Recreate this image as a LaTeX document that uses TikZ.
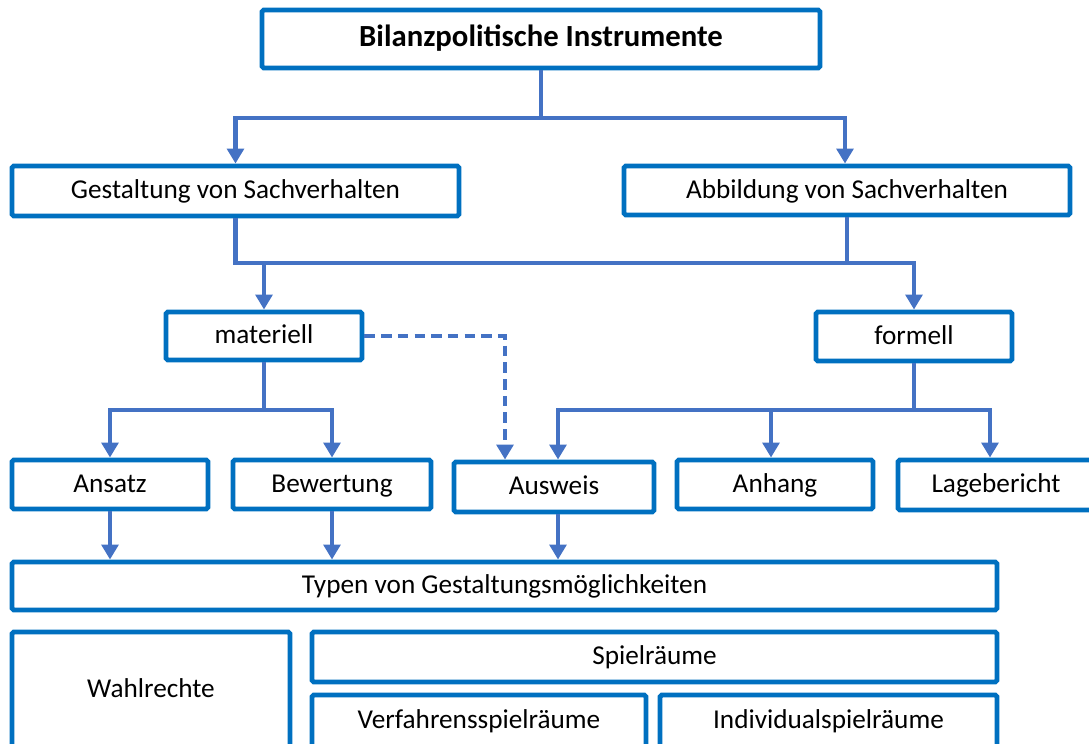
\documentclass[tikz,border=0pt]{standalone}
\usepackage{fontspec}
\setmainfont{Carlito}
\usetikzlibrary{arrows.meta,calc}
\definecolor{boxblue}{HTML}{0070C0}
\definecolor{linkblue}{HTML}{4472C4}
\tikzstyle{box}=[draw=boxblue,line width=2.8pt,rounded corners=1pt,inner sep=0pt,fill=white,text height=12pt,text depth=3pt,font=\fontsize{15.5}{18}\selectfont]
\tikzstyle{link}=[draw=linkblue,line width=2.3pt]
\tikzstyle{arrow}=[link,-{Triangle[width=9.5pt,length=8.5pt]}]
\tikzstyle{dashlink}=[arrow,dash pattern=on 6pt off 3.5pt]

\begin{document}
\begin{tikzpicture}[x=0.02cm,y=-0.02cm]

    \useasboundingbox (0,0) rectangle (1089,744);
    \clip (0,0) rectangle (1089,744);

    % boxes: position / width / height / name / text
    \foreach \pos/\w/\h/\name/\txt in {{(541,39)/558/58/title/{\fontsize{17.5}{20}\selectfont\bfseries Bilanzpolitische Instrumente}},
        {(235.5,191)/447/50/gest/{Gestaltung von Sachverhalten}}, {(847,190.5)/446/49/abb/{Abbildung von Sachverhalten}},
        {(264,336)/196/48/mat/materiell}, {(914,336.5)/196/49/form/formell},
        {(110,484.5)/196/49/ansatz/Ansatz}, {(332,484.5)/198/49/bew/Bewertung}, {(554,487)/200/50/ausweis/Ausweis},
        {(775,484.5)/196/49/anhang/Anhang}, {(996,485)/196/50/lage/Lagebericht},
        {(504.5,586)/985/48/typen/{Typen von Gestaltungsmöglichkeiten}},
        {(151,690)/278/116/wahl/Wahlrechte}, {(654.5,657)/685/50/spiel/Spielräume},
        {(479,721)/334/52/verf/Verfahrensspielräume}, {(828.5,721)/337/52/indiv/Individualspielräume}}
        \node[box,minimum width=\w*0.02cm,minimum height=\h*0.02cm] (\name) at \pos {\txt};

    % first level
    \coordinate (t1) at (541,118);
    \draw[link] (title.south) -- (t1);
    \draw[arrow] (t1) -| (gest.north);
    \draw[arrow] (t1) -| ($(abb.north)+(-2,0)$);

    % second level
    \coordinate (t2) at (264,263);
    \draw[arrow] (gest.south) |- (t2) -| (form.north);
    \draw[link] (abb.south) -- (abb.south |- t2);
    \draw[arrow] (t2) -- (mat.north);

    % materiell
    \coordinate (t3) at (264,410);
    \draw[link] (mat.south) -- (t3);
    \draw[arrow] (t3) -| (ansatz.north);
    \draw[arrow] (t3) -| (bew.north);
    \draw[dashlink] (mat.east) -| ($(ausweis.north)+(-49,0)$);

    % formell
    \coordinate (t4) at (914,410);
    \draw[link] (form.south) -- (t4);
    \draw[arrow] (t4) -| ($(ausweis.north)+(4,0)$);
    \draw[arrow] (t4) -| ($(anhang.north)+(-4,0)$);
    \draw[arrow] (t4) -| ($(lage.north)+(-6,0)$);

    % to Typen
    \foreach \src/\dx in {ansatz/0, bew/0, ausweis/4}
        \draw[arrow] ($(\src.south)+(\dx,0)$) -- ($(\src.south |- typen.north)+(\dx,0)$);

\end{tikzpicture}
\end{document}
